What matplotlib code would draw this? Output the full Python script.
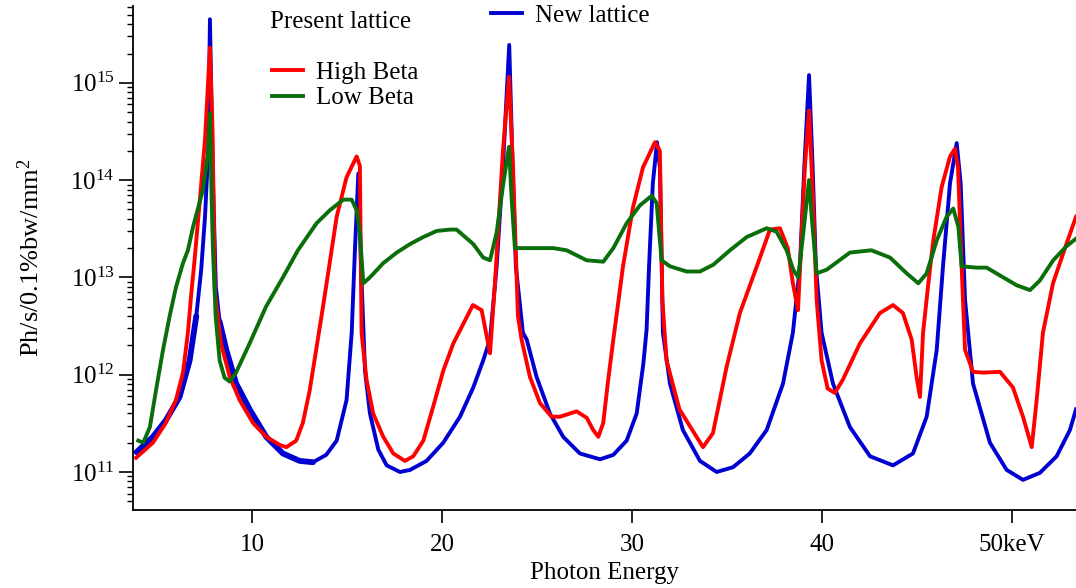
import matplotlib
matplotlib.use("Agg")
import matplotlib.pyplot as plt
from matplotlib.lines import Line2D
from matplotlib.ticker import LogLocator, FixedLocator, FixedFormatter, LogFormatterMathtext, NullFormatter

plt.rcParams["font.family"] = ["Liberation Serif", "DejaVu Serif"]
plt.rcParams["mathtext.fontset"] = "custom"
plt.rcParams["mathtext.rm"] = "Liberation Serif"
plt.rcParams["mathtext.it"] = "Liberation Serif:italic"

# Brilliance curves, photon energy in keV, flux in Ph/s/0.1%bw/mm^2
high_beta_e = [3.9, 4.79, 5.47, 6.0, 6.37, 6.63, 6.81, 6.98, 7.26, 7.53, 7.79, 7.93, 8.05, 8.37,
               8.83, 9.35, 10.05, 10.75, 11.46, 11.81, 12.33, 12.68, 13.04, 13.38, 13.74, 14.09,
               14.46, 14.98, 15.51, 15.68, 15.77, 16.03, 16.38, 16.91, 17.44, 18.05, 18.49, 19.02,
               19.54, 20.07, 20.6, 21.63, 22.09, 22.53, 22.79, 23.21, 23.53, 23.74, 24.0, 24.19,
               24.63, 25.16, 25.77, 26.21, 27.09, 27.62, 27.96, 28.23, 28.49, 28.75, 29.02, 29.53,
               30.05, 30.58, 31.21, 31.47, 31.6, 31.82, 32.5, 33.74, 34.26, 34.98, 35.68, 36.74,
               37.26, 37.79, 38.2, 38.47, 38.74, 38.93, 39.1, 39.32, 39.53, 39.72, 39.98, 40.3,
               40.68, 41.1, 42.0, 43.05, 43.74, 44.26, 44.72, 44.98, 45.16, 45.32, 45.6, 45.86,
               46.3, 46.74, 47.0, 47.16, 47.35, 47.53, 47.95, 48.47, 49.37, 50.05, 50.58, 51.04,
               51.3, 51.63, 52.16, 52.79, 53.37]
high_beta = [1.4e11, 2.0e11, 3.2e11, 5.5e11, 1.05e12, 2.7e12, 6.9e12, 1.5e13, 6.3e13, 2.6e14,
             2.3e15, 3.0e14, 7.0e12, 2.1e12, 9.5e11, 5.5e11, 3.2e11, 2.3e11, 1.9e11, 1.8e11,
             2.1e11, 3.2e11, 6.9e11, 1.8e12, 5.0e12, 1.4e13, 4.2e13, 1.07e14, 1.75e14, 1.4e14,
             2.7e12, 8.9e11, 4.0e11, 2.3e11, 1.55e11, 1.3e11, 1.45e11, 2.1e11, 4.7e11, 1.1e12,
             2.1e12, 5.2e12, 4.6e12, 1.66e12, 8.7e12, 2.0e14, 1.15e15, 1.35e14, 4.0e12, 2.3e12,
             9.5e11, 5.1e11, 3.7e11, 3.7e11, 4.2e11, 3.6e11, 2.7e11, 2.3e11, 3.2e11, 8.9e11,
             2.3e12, 1.3e13, 5.2e13, 1.35e14, 2.45e14, 2.0e14, 5.9e12, 1.4e12, 4.4e11, 1.8e11,
             2.5e11, 1.2e12, 4.3e12, 1.6e13, 3.1e13, 3.2e13, 2.0e13, 8.7e12, 4.6e12, 2.8e13,
             1.35e14, 5.2e14, 6.3e13, 5.9e12, 1.4e12, 7.2e11, 6.5e11, 8.9e11, 2.1e12, 4.3e12,
             5.2e12, 4.3e12, 2.3e12, 9.5e11, 5.9e11, 2.7e12, 8.7e12, 2.4e13, 8.5e13, 1.75e14,
             2.1e14, 1.35e14, 1.3e13, 1.8e12, 1.07e12, 1.05e12, 1.07e12, 7.4e11, 3.7e11, 1.8e11,
             5.5e11, 2.7e12, 8.7e12, 2.0e13, 4.2e13]

new_e = [3.93, 4.79, 5.47, 6.19, 6.72, 7.07, 7.33, 7.53, 7.7, 7.79, 7.93, 8.1, 8.3, 8.65, 9.17,
         9.88, 10.75, 11.63, 12.51, 13.21, 13.91, 14.46, 14.98, 15.25, 15.42, 15.6, 15.74, 15.95,
         16.21, 16.65, 17.09, 17.79, 18.32, 19.19, 20.07, 20.95, 21.65, 22.17, 22.53, 22.88, 23.21,
         23.54, 23.72, 23.89, 24.26, 24.46, 24.98, 25.68, 26.38, 27.26, 28.32, 29.02, 29.72, 30.25,
         30.6, 30.77, 30.9, 31.1, 31.32, 31.47, 31.63, 32.0, 32.68, 33.58, 34.46, 35.32, 36.2,
         37.09, 37.95, 38.47, 38.84, 39.07, 39.32, 39.51, 39.68, 39.98, 40.58, 41.47, 42.53, 43.74,
         44.79, 45.51, 46.04, 46.37, 46.74, 47.09, 47.3, 47.53, 47.95, 48.84, 49.72, 50.58, 51.47,
         52.35, 53.05, 53.37]
new_lattice = [1.6e11, 2.3e11, 3.4e11, 5.9e11, 1.4e12, 4.0e12, 1.2e13, 4.2e13, 2.0e14, 4.5e15,
               1.35e14, 8.0e12, 3.5e12, 1.8e12, 8.1e11, 4.4e11, 2.3e11, 1.55e11, 1.3e11, 1.26e11,
               1.5e11, 2.1e11, 5.5e11, 2.7e12, 1.9e13, 1.17e14, 1.3e13, 1.1e12, 4.0e11, 1.7e11,
               1.17e11, 1.0e11, 1.05e11, 1.3e11, 2.0e11, 3.7e11, 7.4e11, 1.4e12, 2.3e12, 1.3e13,
               1.35e14, 2.45e15, 1.35e14, 1.3e13, 2.7e12, 2.3e12, 9.5e11, 4.0e11, 2.3e11, 1.55e11,
               1.35e11, 1.5e11, 2.1e11, 4.0e11, 1.3e12, 2.9e12, 1.3e13, 9.3e13, 2.45e14, 1.35e14,
               2.7e12, 8.1e11, 2.7e11, 1.3e11, 1.0e11, 1.12e11, 1.55e11, 2.7e11, 8.1e11, 2.7e12,
               1.3e13, 1.35e14, 1.2e15, 1.35e14, 1.3e13, 2.7e12, 8.1e11, 2.9e11, 1.45e11, 1.17e11,
               1.55e11, 3.7e11, 1.8e12, 1.3e13, 9.3e13, 2.4e14, 9.3e13, 5.9e12, 8.1e11, 2.0e11,
               1.05e11, 8.3e10, 9.8e10, 1.45e11, 2.7e11, 4.4e11]

low_beta_e = [4.02, 4.28, 4.63, 4.95, 5.32, 5.67, 6.0, 6.37, 6.63, 6.9, 7.42, 7.7, 7.79, 7.88,
              7.95, 8.09, 8.3, 8.56, 8.83, 9.16, 9.88, 10.74, 11.63, 12.42, 13.4, 14.1, 14.81,
              15.25, 15.51, 15.68, 15.86, 16.21, 16.91, 17.62, 18.32, 19.02, 19.72, 20.42, 20.77,
              21.65, 22.17, 22.53, 22.88, 23.23, 23.53, 23.67, 23.84, 25.86, 26.56, 27.61, 28.49,
              29.02, 29.72, 30.42, 31.04, 31.3, 31.56, 32.0, 32.88, 33.58, 34.28, 35.16, 36.04,
              37.09, 37.61, 38.14, 38.49, 38.75, 39.02, 39.32, 39.46, 39.72, 40.25, 41.47, 42.6,
              43.58, 44.46, 45.07, 45.51, 46.04, 46.56, 46.91, 47.18, 47.35, 48.14, 48.67, 49.54,
              50.25, 50.95, 51.47, 52.17, 52.88, 53.37]
low_beta = [2.1e11, 2.0e11, 2.9e11, 6.9e11, 1.8e12, 4.0e12, 7.9e12, 1.4e13, 1.9e13, 3.3e13,
            7.9e13, 2.0e14, 4.9e14, 6.3e13, 1.9e13, 4.0e12, 1.4e12, 9.3e11, 8.5e11, 1.05e12,
            2.1e12, 5.0e12, 1.0e13, 1.9e13, 3.6e13, 4.9e13, 6.3e13, 6.3e13, 4.9e13, 2.9e13,
            8.7e12, 1.0e13, 1.4e13, 1.8e13, 2.2e13, 2.6e13, 3.0e13, 3.1e13, 3.1e13, 2.2e13,
            1.6e13, 1.5e13, 2.9e13, 9.3e13, 2.2e14, 6.3e13, 2.0e13, 2.0e13, 1.9e13, 1.5e13,
            1.45e13, 2.0e13, 3.6e13, 5.5e13, 6.9e13, 5.8e13, 1.5e13, 1.3e13, 1.15e13, 1.15e13,
            1.35e13, 1.9e13, 2.6e13, 3.2e13, 2.95e13, 1.9e13, 1.2e13, 1.0e13, 2.9e13, 1.0e14,
            4.2e13, 1.1e13, 1.2e13, 1.8e13, 1.9e13, 1.6e13, 1.1e13, 8.7e12, 1.1e13, 2.4e13,
            4.2e13, 5.1e13, 3.3e13, 1.3e13, 1.26e13, 1.26e13, 1.0e13, 8.3e12, 7.4e12, 9.3e12,
            1.5e13, 2.1e13, 2.5e13]

x_ticks = [10, 20, 30, 40, 50]
x_tick_labels = ["10", "20", "30", "40", "50keV"]

c_red = "#ff0000"
c_green = "#0a6e0a"
c_blue = "#0000d0"
lw = 2.8

fig = plt.figure(figsize=(10.76, 5.88), dpi=100)
ax = fig.add_axes([0.1236, 0.1327, 0.8764, 0.857])

# the new lattice trace is noisy on both flanks of the first harmonic,
# so those stretches are drawn as a wider band
for lo, hi in [(3.0, 7.2), (8.2, 13.5)]:
    idx = [i for i, e in enumerate(new_e) if lo <= e <= hi]
    ax.plot([new_e[i] for i in idx], [new_lattice[i] for i in idx],
            color=c_blue, lw=4.2, solid_capstyle="round")
ax.plot(new_e, new_lattice, color=c_blue, lw=lw)
ax.plot(high_beta_e, high_beta, color=c_red, lw=lw)
ax.plot(low_beta_e, low_beta, color=c_green, lw=lw)

ax.set_yscale("log")
ax.set_xlim(3.74, 53.37)
ax.set_ylim(4.07e10, 6.15e15)

ax.yaxis.set_major_locator(FixedLocator([1e11, 1e12, 1e13, 1e14, 1e15]))
ax.yaxis.set_major_formatter(LogFormatterMathtext())
ax.yaxis.set_minor_locator(LogLocator(base=10, subs=range(2, 10), numticks=20))
ax.yaxis.set_minor_formatter(NullFormatter())
ax.xaxis.set_major_locator(FixedLocator(x_ticks))
ax.xaxis.set_major_formatter(FixedFormatter(x_tick_labels))

for side in ["top", "right"]:
    ax.spines[side].set_visible(False)
ax.spines["left"].set_linewidth(1.3)
ax.spines["bottom"].set_linewidth(1.3)

ax.tick_params(axis="y", which="major", direction="out", length=10, width=1.2, labelsize=18, pad=3)
ax.tick_params(axis="y", which="minor", direction="out", length=4, width=1.0)
ax.tick_params(axis="x", which="major", direction="out", length=9.5, width=1.2, labelsize=18, pad=8)

ax.set_xlabel("Photon Energy", fontsize=18, labelpad=4)
ax.set_ylabel("Ph/s/0.1%bw/mm$^2$", fontsize=19)
ax.yaxis.set_label_coords(-0.095, 0.5)

# legend: present lattice group and new lattice
fig.text(270 / 1076, 1 - 22 / 588, "Present lattice", fontsize=18, va="center", ha="left")
h_high = Line2D([], [], color=c_red, lw=lw)
h_low = Line2D([], [], color=c_green, lw=lw)
h_new = Line2D([], [], color=c_blue, lw=lw)
leg1 = fig.legend([h_high, h_low], ["High Beta", "Low Beta"], loc="upper left",
                  bbox_to_anchor=(272 / 1076, 1 - 61 / 588), frameon=False, fontsize=18,
                  handlelength=1.25, handletextpad=0.5, labelspacing=0.13,
                  borderpad=0, borderaxespad=0)
leg2 = fig.legend([h_new], ["New lattice"], loc="upper left",
                  bbox_to_anchor=(491 / 1076, 1 - 4 / 588), frameon=False, fontsize=18,
                  handlelength=1.25, handletextpad=0.5, borderpad=0, borderaxespad=0)

fig.savefig("out.png", dpi=100)
